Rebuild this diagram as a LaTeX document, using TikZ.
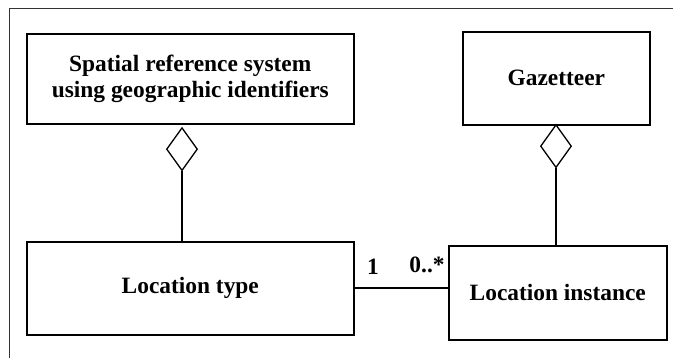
\documentclass[tikz,border=0pt]{standalone}
\usepackage{fontspec}
\setmainfont{Liberation Serif}
\usetikzlibrary{shapes.geometric}
\begin{document}
\begin{tikzpicture}[x=1pt,y=-1pt,
  cls/.style={draw,line width=1.6pt,inner sep=0pt,anchor=north west,font=\fontsize{23.4}{26}\selectfont\bfseries,align=center},
  agg/.style={draw,line width=1.3pt,shape=diamond,minimum width=31pt,minimum height=43pt,inner sep=0pt,anchor=north},
  conn/.style={line width=1.3pt},
  lbl/.style={font=\fontsize{23.4}{26}\selectfont\bfseries,inner sep=0pt}]
\useasboundingbox (0,0) rectangle (673,358);
\draw[line width=1.5pt,black!80] (9.5,358) -- (9.5,8.5) -- (673,8.5);
\node[cls,minimum width=327pt,minimum height=90pt] (srs) at (26,33) {Spatial reference system\\using geographic identifiers};
\node[cls,minimum width=187pt,minimum height=93pt] (gaz) at (462,31) {Gazetteer};
\node[cls,minimum width=327pt,minimum height=93pt] (lt) at (26,241) {Location type};
\node[cls,minimum width=218pt,minimum height=94pt] (li) at (448,245) {Location instance};
\node[agg] (d1) at (182,127) {};
\node[agg] (d2) at (556,124) {};
\draw[conn] (d1.south) -- (lt.north -| d1.south);
\draw[conn] (d2.south) -- (li.north -| d2.south);
\draw[conn] (lt.east |- 0,288) coordinate (a) -- (li.west |- a);
\node[lbl] (m1) at (373,267) {1};
\node[lbl] (m2) at (427,265) {0..*};
\end{tikzpicture}
\end{document}
